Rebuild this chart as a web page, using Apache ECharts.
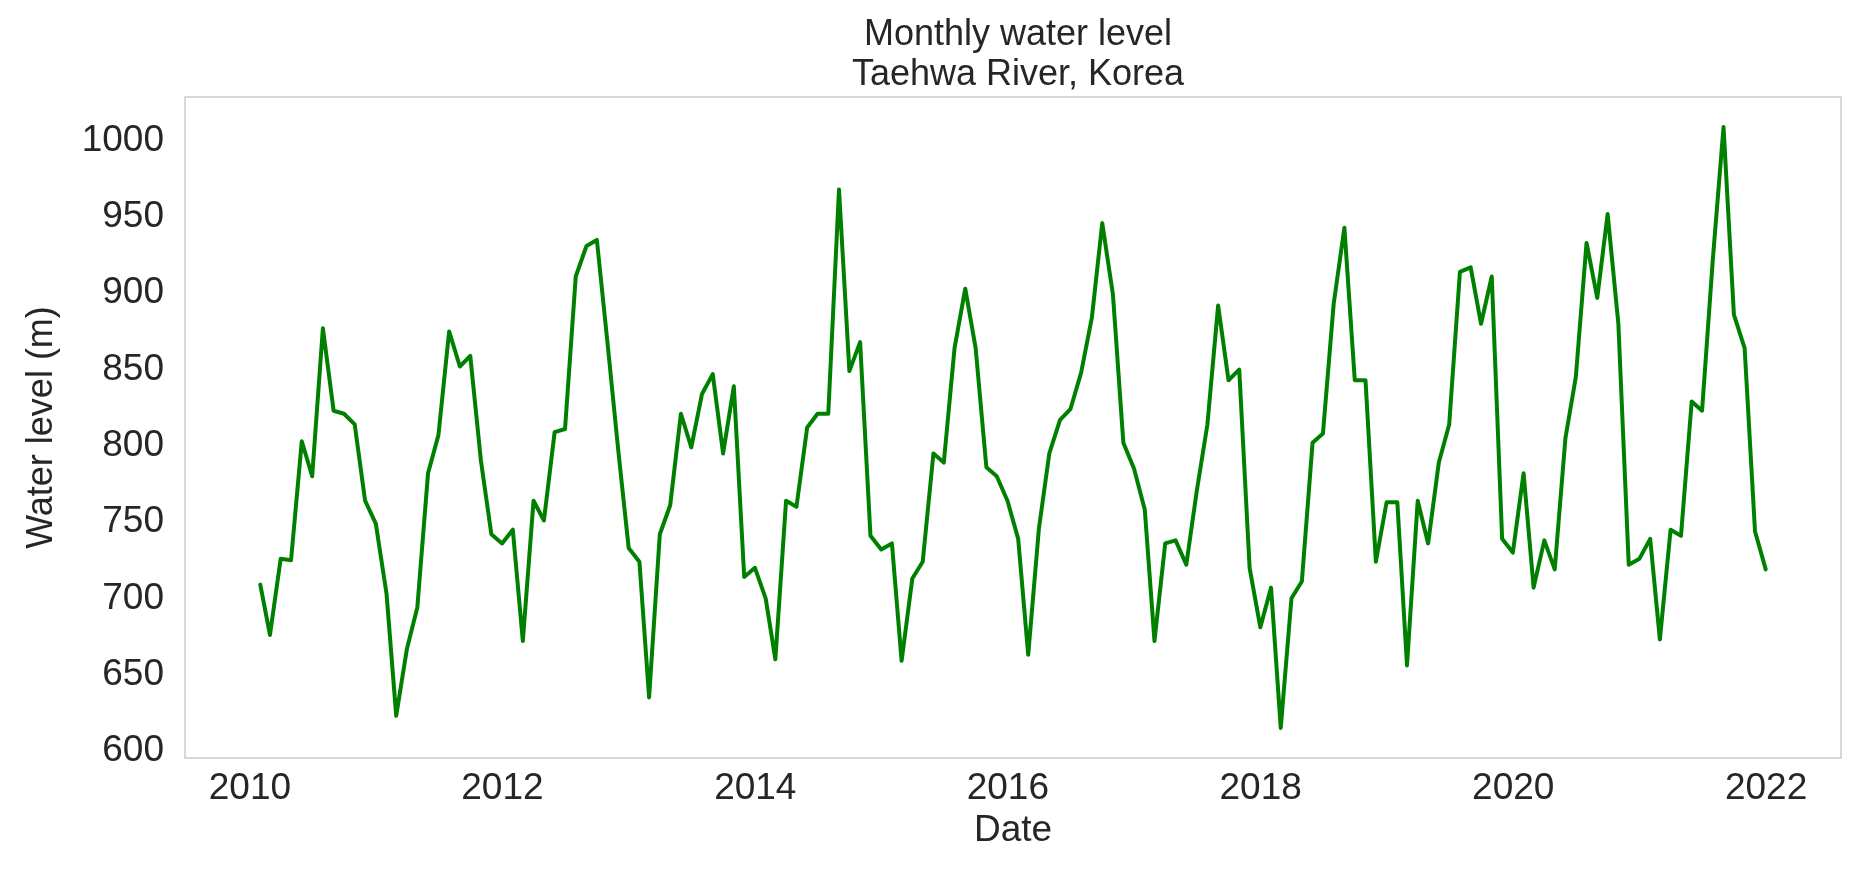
<!DOCTYPE html>
<html>
<head>
<meta charset="utf-8">
<script src="https://cdn.jsdelivr.net/npm/echarts@6/dist/echarts.min.js"></script>
<style>
html,body{margin:0;padding:0;background:#ffffff;}
#chart{width:1858px;height:871px;}
</style>
</head>
<body>
<div id="chart"></div>
<script>
// ---- data (monthly water level, month-end dates) ----
const firstYear = 2010;
const level2010 = [709, 676, 726, 725, 803, 780, 877, 823, 821, 814, 764, 749];
const level2011 = [703, 623, 667, 694, 782, 807, 875, 852, 859, 790, 742, 736];
const level2012 = [745, 672, 764, 751, 809, 811, 911, 931, 935, 867, 799, 733];
const level2013 = [724, 635, 742, 761, 821, 799, 834, 847, 795, 839, 714, 720];
const level2014 = [700, 660, 764, 760, 812, 821, 821, 968, 849, 868, 741, 732];
const level2015 = [736, 659, 713, 724, 795, 789, 864, 903, 864, 786, 780, 764];
const level2016 = [739, 663, 746, 795, 817, 824, 848, 884, 946, 899, 802, 785];
const level2017 = [758, 672, 736, 738, 722, 770, 814, 892, 843, 850, 720, 681];
const level2018 = [707, 615, 700, 711, 802, 808, 893, 943, 843, 843, 724, 763];
const level2019 = [763, 656, 764, 736, 789, 814, 914, 917, 880, 911, 739, 730];
const level2020 = [782, 707, 738, 719, 805, 845, 933, 897, 952, 880, 722, 726];
const level2021 = [739, 673, 745, 741, 829, 823, 922, 1009, 886, 864, 744, 719];
const yTickValues = [600, 650, 700, 750, 800, 850, 900, 950, 1000];
const xTickYears = [2010, 2012, 2014, 2016, 2018, 2020, 2022];
const titleText = 'Monthly water level\nTaehwa River, Korea';
const xName = 'Date';
const yName = 'Water level (m)';

// ---- build ----
const levels = [].concat(level2010, level2011, level2012, level2013, level2014, level2015,
  level2016, level2017, level2018, level2019, level2020, level2021);
const DAY = 86400000;
function toYearCoord(ms) { return 1970 + ms / (365.2425 * DAY); }
const seriesData = levels.map(function (v, i) {
  const y = firstYear + Math.floor(i / 12);
  const m = i % 12;
  const monthEnd = Date.UTC(y, m + 1, 0);
  return [toYearCoord(monthEnd), v];
});
const xTickCoords = xTickYears.map(function (yr) { return toYearCoord(Date.UTC(yr, 0, 1)); });
const xs = seriesData.map(function (d) { return d[0]; });
const xMinD = Math.min.apply(null, xs), xMaxD = Math.max.apply(null, xs);
const yMinD = Math.min.apply(null, levels), yMaxD = Math.max.apply(null, levels);
const xPad = 0.05 * (xMaxD - xMinD), yPad = 0.05 * (yMaxD - yMinD);

const FONT = '"Liberation Sans", Arial, sans-serif';
const TXT = '#262626';

const chart = echarts.init(document.getElementById('chart'), null, {renderer: 'canvas'});
chart.setOption({
  animation: false,
  backgroundColor: '#ffffff',
  title: {
    text: titleText,
    left: 1013,
    top: 10,
    textAlign: 'center',
    textStyle: {fontFamily: FONT, fontSize: 36, fontWeight: 'normal', color: TXT, lineHeight: 40}
  },
  grid: {
    left: 185, right: 17, top: 97, bottom: 113,
    show: true, borderColor: '#cccccc', borderWidth: 1.5, backgroundColor: 'transparent'
  },
  xAxis: {
    type: 'value',
    min: xMinD - xPad,
    max: xMaxD + xPad,
    name: xName,
    nameLocation: 'middle',
    nameGap: 52,
    nameTextStyle: {fontFamily: FONT, fontSize: 37, color: TXT},
    axisLine: {show: false},
    axisTick: {show: false},
    splitLine: {show: false},
    axisLabel: {
      customValues: xTickCoords,
      margin: 12,
      fontFamily: FONT, fontSize: 37, color: TXT,
      formatter: function (v) { return String(Math.round(v)); }
    }
  },
  yAxis: {
    type: 'value',
    min: yMinD - yPad,
    max: yMaxD + yPad,
    name: yName,
    nameLocation: 'middle',
    nameGap: 125,
    nameTextStyle: {fontFamily: FONT, fontSize: 36, color: TXT},
    axisLine: {show: false},
    axisTick: {show: false},
    splitLine: {show: false},
    axisLabel: {
      customValues: yTickValues,
      margin: 21,
      fontFamily: FONT, fontSize: 37, color: TXT,
      formatter: function (v) { return String(Math.round(v)); }
    }
  },
  series: [{
    type: 'line',
    data: seriesData,
    showSymbol: false,
    symbol: 'none',
    lineStyle: {color: '#008000', width: 4, join: 'round', cap: 'round'},
    itemStyle: {color: '#008000'}
  }]
});
</script>
</body>
</html>
